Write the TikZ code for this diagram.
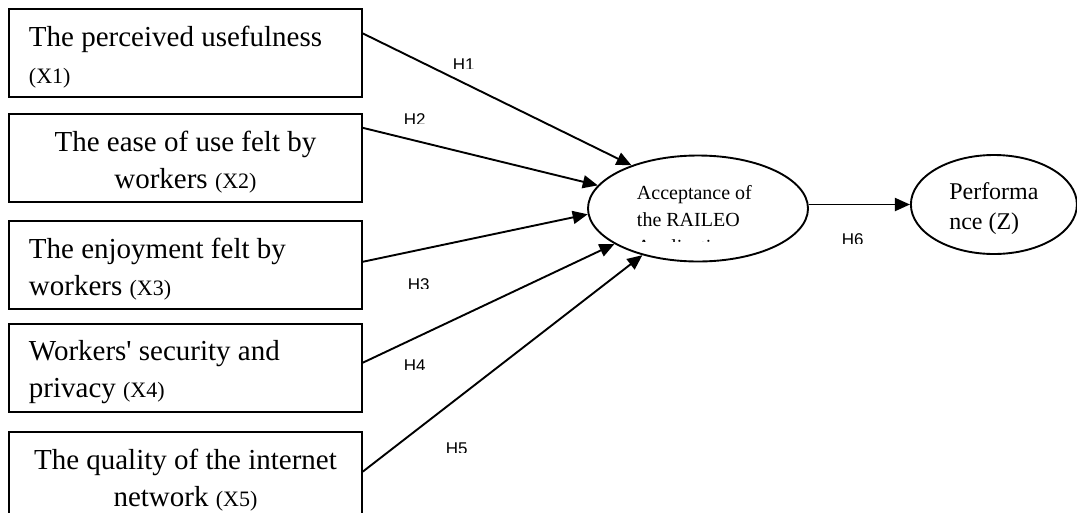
\documentclass[tikz,border=0pt]{standalone}
\usepackage{fontspec}
\setmainfont{Liberation Serif}
\newfontfamily\hfont{Liberation Sans}
\usetikzlibrary{shapes.geometric, positioning}
\usetikzlibrary{arrows.meta}
\tikzset{>={Triangle[width=13pt,length=15pt]}}

\begin{document}
\begin{tikzpicture}[x=1pt, y=-1pt, line width=1.9pt, boxnode/.style={rectangle, draw=black, line width=1.9pt, minimum width=353pt, minimum height=88pt, inner xsep=0pt, inner ysep=0pt, text width=313pt, font=\fontsize{29}{37}\selectfont, execute at begin node={\rule{0pt}{29pt}}}, ovalnode/.style={ellipse, draw=black, line width=1.9pt, inner sep=0pt}, hnode/.style={inner sep=0pt, anchor=north west, font=\hfont\fontsize{17}{20}\selectfont}]
    \useasboundingbox (0,0) rectangle (1077,512);
    
    %Nodes
    \node[boxnode, align=flush left, anchor=north west](x1) at (8,8){The perceived usefulness\\{\fontsize{22}{37}\selectfont (X1)}};
    \node[boxnode, align=flush center](x2)[below=15pt of x1]{The ease of use felt by\\workers {\fontsize{22}{37}\selectfont (X2)}};
    \node[boxnode, align=flush left](x3)[below=17pt of x2]{The enjoyment felt by\\workers {\fontsize{22}{37}\selectfont (X3)}};
    \node[boxnode, align=flush left](x4)[below=13pt of x3]{Workers\textquotesingle{} security and\\privacy {\fontsize{22}{37}\selectfont (X4)}};
    \node[boxnode, align=flush center](x5)[below=18pt of x4]{The quality of the internet\\network {\fontsize{22}{37}\selectfont (X5)}};
    \node[ovalnode, minimum width=220pt, minimum height=106pt](accept) at (698,208.5){};
    \node[ovalnode, minimum width=166pt, minimum height=99pt, align=flush left, font=\fontsize{24}{30}\selectfont](perf)[right=101pt of accept, yshift=4pt]{\rule{0pt}{25pt}Performa\\nce (Z)};
    
    %Text cut by its box
    \begin{scope}
        \clip (600,170) rectangle (800,241);
        \node[inner sep=0pt, anchor=north west, align=flush left, font=\fontsize{20}{27}\selectfont](accept_text) at (636,184.3){Acceptance of\\the RAILEO\\Application};
    \end{scope}
    \begin{scope}
        \clip (447,50) rectangle (485,68);
        \node[hnode](h1) at (452,58){H1};
    \end{scope}
    \begin{scope}
        \clip (398,105) rectangle (436,123);
        \node[hnode](h2) at (403,113){H2};
    \end{scope}
    \begin{scope}
        \clip (402,270) rectangle (440,288);
        \node[hnode](h3) at (407,278){H3};
    \end{scope}
    \begin{scope}
        \clip (398,351) rectangle (436,369);
        \node[hnode](h4) at (403,359){H4};
    \end{scope}
    \begin{scope}
        \clip (440,434) rectangle (478,452);
        \node[hnode](h5) at (445,442){H5};
    \end{scope}
    \begin{scope}
        \clip (836,225) rectangle (874,243);
        \node[hnode](h6) at (841,233){H6};
    \end{scope}
    
    %Lines
    \draw[->] ([yshift=19.5pt]x1.east) -- (accept.147.5);
    \draw[->] ([yshift=30pt]x2.east) -- (accept.167.4);
    \draw[->] ([yshift=3pt]x3.east) -- (accept.183.5);
    \draw[->] ([yshift=5pt]x4.east) -- (accept.203.7);
    \draw[->] ([yshift=4pt]x5.east) -- (accept.220);
    \draw[->] (accept.east |- perf.west) -- (perf.west);
    
\end{tikzpicture}
\end{document}
